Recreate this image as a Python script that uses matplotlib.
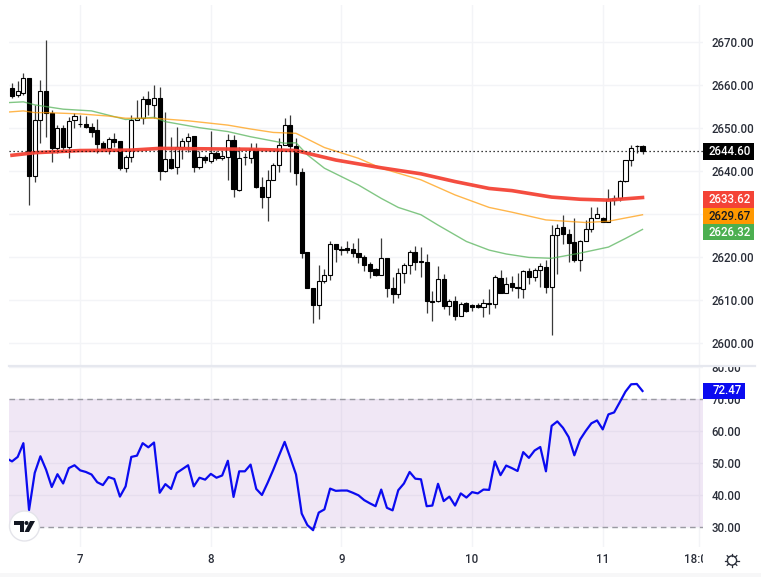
import numpy as np
import matplotlib
matplotlib.use('Agg')
import matplotlib.pyplot as plt
from matplotlib.patches import Rectangle, Circle, Polygon

plt.rcParams['font.family'] = ['Roboto', 'DejaVu Sans']

# Mumlar (hourly candles)
opens = [2659.1, 2657.5, 2658.1, 2661.5, 2638.8, 2651.9, 2658.4, 2653.3, 2645.2, 2650.0,
         2645.6, 2651.7, 2650.9, 2650.9, 2650.2, 2649.5, 2646.4, 2645.4, 2647.4, 2646.8,
         2640.7, 2643.1, 2651.8, 2652.2, 2656.6, 2655.2, 2657.0, 2639.9, 2642.8, 2640.8,
         2645.6, 2646.9, 2648.1, 2640.8, 2643.3, 2642.3, 2644.1, 2642.9, 2643.3, 2647.1,
         2635.5, 2643.1, 2642.9, 2645.0, 2636.3, 2633.9, 2637.9, 2641.4, 2646.1, 2650.6,
         2645.8, 2639.8, 2621.2, 2612.9, 2608.9, 2614.5, 2615.8, 2622.9, 2621.8, 2622.1,
         2621.9, 2621.0, 2619.9, 2618.4, 2617.1, 2615.8, 2619.7, 2612.9, 2611.5, 2616.2,
         2618.1, 2621.1, 2619.0, 2618.8, 2609.7, 2609.7, 2614.8, 2608.6, 2609.7, 2606.4,
         2609.3, 2608.9, 2608.9, 2608.3, 2609.1, 2609.1, 2615.1, 2611.7, 2613.9, 2613.0,
         2612.6, 2616.8, 2615.4, 2617.0, 2617.7, 2613.1, 2625.1, 2626.9, 2625.3, 2623.4,
         2619.2, 2623.8, 2626.5, 2629.1, 2629.1, 2628.2, 2633.2, 2633.6, 2637.7, 2642.4,
         2645.7, 2645.7]
closes = [2657.4, 2658.4, 2661.5, 2638.8, 2651.9, 2658.4, 2653.3, 2645.4, 2650.0, 2645.6,
          2651.6, 2652.6, 2650.8, 2650.1, 2649.1, 2646.2, 2645.4, 2647.4, 2646.6, 2640.7,
          2643.1, 2651.9, 2652.2, 2656.6, 2655.5, 2656.8, 2640.0, 2642.7, 2640.7, 2645.6,
          2647.0, 2647.9, 2640.8, 2643.1, 2642.5, 2644.1, 2642.9, 2643.4, 2647.1, 2635.7,
          2643.0, 2643.1, 2645.0, 2636.3, 2633.9, 2637.9, 2641.4, 2646.1, 2650.6, 2645.8,
          2639.6, 2621.0, 2612.8, 2608.9, 2614.4, 2615.8, 2622.9, 2621.9, 2621.6, 2621.7,
          2620.9, 2620.0, 2618.2, 2616.8, 2615.8, 2619.7, 2612.8, 2611.5, 2616.2, 2618.1,
          2621.1, 2618.9, 2618.8, 2609.7, 2609.6, 2614.8, 2608.7, 2609.7, 2606.2, 2609.1,
          2607.5, 2608.5, 2608.4, 2609.3, 2609.1, 2615.4, 2611.6, 2613.7, 2613.1, 2612.7,
          2616.8, 2615.4, 2617.0, 2617.9, 2613.1, 2625.1, 2626.7, 2625.3, 2623.3, 2619.2,
          2623.8, 2626.5, 2629.1, 2630.0, 2628.2, 2633.4, 2633.8, 2637.7, 2642.4, 2645.4,
          2645.7, 2644.5]
highs = [2660.3, 2660.9, 2662.6, 2661.5, 2655.3, 2661.1, 2670.3, 2654.1, 2650.6, 2650.6,
         2652.4, 2653.3, 2652.9, 2652.6, 2651.2, 2652.1, 2646.8, 2647.8, 2648.7, 2646.8,
         2643.7, 2652.9, 2656.4, 2657.4, 2658.6, 2659.8, 2659.4, 2653.7, 2647.8, 2650.1,
         2647.5, 2648.7, 2648.1, 2644.7, 2643.7, 2649.2, 2644.7, 2644.7, 2648.5, 2648.3,
         2645.6, 2644.1, 2646.4, 2646.5, 2638.5, 2640.3, 2641.9, 2647.5, 2652.2, 2652.9,
         2647.5, 2640.6, 2621.2, 2612.9, 2618.1, 2617.1, 2623.8, 2622.9, 2622.6, 2623.8,
         2623.2, 2624.3, 2620.5, 2618.9, 2617.4, 2624.3, 2619.7, 2615.4, 2617.4, 2618.7,
         2621.6, 2622.6, 2622.4, 2620.6, 2612.0, 2617.9, 2616.0, 2610.2, 2610.9, 2609.6,
         2609.5, 2609.1, 2609.3, 2610.2, 2612.5, 2615.8, 2617.0, 2615.4, 2615.7, 2616.4,
         2617.0, 2617.4, 2617.5, 2618.5, 2619.2, 2627.4, 2627.7, 2629.8, 2626.4, 2629.0,
         2624.0, 2628.6, 2631.5, 2631.5, 2629.2, 2635.8, 2634.5, 2637.9, 2642.5, 2646.1,
         2646.1, 2646.1]
lows = [2656.8, 2657.2, 2657.6, 2632.1, 2637.5, 2646.4, 2647.9, 2642.0, 2644.2, 2644.4,
        2642.9, 2649.9, 2650.2, 2649.9, 2647.9, 2644.1, 2645.2, 2643.9, 2645.6, 2640.2,
        2639.8, 2642.0, 2651.8, 2650.8, 2653.0, 2652.2, 2637.9, 2639.8, 2640.5, 2639.2,
        2642.7, 2644.4, 2639.8, 2640.5, 2641.7, 2641.7, 2642.4, 2642.4, 2637.9, 2634.0,
        2635.3, 2641.3, 2641.7, 2635.9, 2631.3, 2628.4, 2637.9, 2639.8, 2646.0, 2639.8,
        2636.7, 2619.7, 2612.7, 2604.6, 2605.7, 2613.9, 2614.7, 2618.9, 2620.5, 2620.9,
        2620.1, 2618.5, 2616.8, 2615.1, 2615.6, 2615.8, 2610.8, 2609.3, 2610.4, 2613.9,
        2616.1, 2617.0, 2615.4, 2606.9, 2605.2, 2609.6, 2607.9, 2606.5, 2605.4, 2606.3,
        2607.3, 2607.5, 2608.1, 2606.0, 2606.8, 2608.1, 2611.6, 2611.6, 2612.0, 2610.6,
        2610.4, 2613.7, 2614.5, 2613.1, 2611.6, 2601.8, 2616.0, 2623.0, 2618.9, 2618.9,
        2616.7, 2623.6, 2625.9, 2629.0, 2628.1, 2628.2, 2632.1, 2633.0, 2637.5, 2641.0,
        2644.2, 2644.0]

# Hareketli ortalamalar (index of candle, value)
red_idx = [0, 4, 12, 21, 26, 42, 50, 57, 65, 72, 78, 84, 88, 95, 100, 105, 111]
red_ma = [2643.6, 2644.2, 2644.7, 2644.8, 2645.2, 2645.0, 2644.7, 2642.5, 2640.7, 2639.3,
          2637.5, 2635.9, 2635.4, 2633.9, 2633.4, 2633.2, 2633.8]
orange_idx = [-1, 2, 4, 6, 12, 17, 20, 25, 31, 38, 42, 46, 50, 55, 61, 65, 72, 78, 84, 88, 94, 101, 105, 111]
orange_ma = [2653.6, 2653.9, 2653.5, 2653.5, 2653.2, 2652.7, 2652.2, 2652.2, 2651.6, 2650.6,
             2649.7, 2648.9, 2648.7, 2645.4, 2642.9, 2640.6, 2637.9, 2634.4, 2631.5, 2630.4,
             2628.6, 2628.0, 2628.3, 2629.8]
green_idx = [-1, 2, 4, 9, 14, 17, 20, 25, 27, 33, 38, 42, 44, 48, 50, 52, 55, 61, 65, 68,
             72, 75, 80, 84, 87, 91, 95, 100, 105, 108, 111]
green_ma = [2655.8, 2656.0, 2655.3, 2654.3, 2653.9, 2652.9, 2651.9, 2652.4, 2651.4, 2650.0,
            2649.1, 2647.9, 2647.4, 2646.4, 2646.5, 2643.7, 2640.6, 2636.7, 2633.6, 2631.5,
            2629.8, 2627.4, 2623.6, 2621.6, 2620.7, 2619.9, 2619.7, 2620.9, 2622.3, 2624.3,
            2626.4]

# RSI (starts one candle before the first one)
rsi = [51.5, 50.5, 51.9, 56.2, 35.3, 46.9, 52.1, 47.9, 42.5, 46.5, 43.6, 48.4, 49.3, 47.7,
       47.2, 46.4, 44.0, 43.1, 45.6, 45.0, 39.5, 42.7, 51.9, 52.3, 56.2, 54.9, 56.4, 40.7,
       43.4, 41.9, 46.9, 48.1, 49.3, 42.7, 45.4, 44.8, 46.6, 45.4, 46.1, 50.7, 39.4, 47.4,
       47.4, 49.5, 41.9, 40.0, 43.8, 47.9, 52.3, 56.6, 51.6, 46.4, 34.2, 30.6, 29.0, 34.5,
       35.5, 42.0, 41.3, 41.4, 41.4, 40.7, 39.9, 38.4, 37.4, 36.5, 41.7, 36.0, 35.2, 41.5,
       43.6, 47.2, 45.1, 44.9, 36.5, 36.7, 43.5, 38.1, 39.5, 36.7, 40.5, 39.2, 40.9, 40.5,
       41.7, 41.6, 50.5, 46.2, 49.2, 48.4, 47.5, 53.4, 51.6, 53.9, 55.0, 47.4, 61.6, 63.0,
       61.0, 58.1, 52.4, 57.3, 60.0, 62.4, 63.3, 60.5, 65.2, 65.8, 69.0, 72.3, 74.6, 74.7,
       72.5]

price_ticks = [2600, 2610, 2620, 2630, 2640, 2650, 2660, 2670]
price_labels = ['2600.00', '2610.00', '2620.00', '', '2640.00', '2650.00', '2660.00', '2670.00']
rsi_ticks = [30, 40, 50, 60, 70, 80]
day_idx = [12, 35, 58, 81, 104, 121]
day_labels = ['7', '8', '9', '10', '11', '18:00']

last_price = 2644.60
W, H = 761, 577


def px_axes(x0, y0, x1, y1):
    return fig.add_axes([x0 / W, 1 - y1 / H, (x1 - x0) / W, (y1 - y0) / H])


fig = plt.figure(figsize=(W / 100, H / 100), dpi=100, facecolor='white')
grid_col = '#f3f4f7'
text_col = '#2a2e39'
xlim = (-0.53, 121.65)

# --- fiyat paneli
ax = px_axes(9, 5, 703, 365)
ax.set_xlim(xlim)
ax.set_ylim(2594.94, 2678.47)
ax.set_xticks(day_idx)
ax.set_yticks(price_ticks)
ax.set_yticklabels(price_labels, fontweight='medium')
ax.grid(True, color=grid_col, lw=1)
ax.set_axisbelow(True)
ax.yaxis.tick_right()
ax.tick_params(axis='y', length=0, pad=6, labelsize=8.3, labelcolor=text_col)
ax.tick_params(axis='x', length=0, labelbottom=False)
for s in ax.spines.values():
    s.set_visible(False)

x = np.arange(len(opens))
o, c = np.array(opens), np.array(closes)
ax.vlines(x, lows, highs, color='#3a3a3a', lw=0.9, zorder=2)
up = c >= o
ax.bar(x[up], np.maximum(c - o, 0.15)[up], bottom=o[up], width=0.72,
       facecolor='white', edgecolor='black', lw=0.8, zorder=3)
ax.bar(x[~up], np.maximum(o - c, 0.15)[~up], bottom=c[~up], width=0.72,
       facecolor='black', edgecolor='black', lw=0.8, zorder=3)

ax.plot(green_idx, green_ma, color='#4caf50', lw=1.0, alpha=0.7, zorder=4)
ax.plot(orange_idx, orange_ma, color='#ff9800', lw=1.0, alpha=0.7, zorder=4)
ax.plot(red_idx, red_ma, color='#f44336', lw=2.6, alpha=0.95, zorder=4)
ax.axhline(last_price, color='black', lw=0.9, ls=(0, (1, 2.2)), zorder=5)

# --- RSI paneli
ax2 = px_axes(9, 367, 703, 547)
ax2.set_xlim(xlim)
ax2.set_ylim(23.75, 80)
ax2.set_xticks(day_idx)
ax2.set_yticks(rsi_ticks)
ax2.set_yticklabels(['%.2f' % v for v in rsi_ticks], fontweight='medium')
ax2.grid(True, color=grid_col, lw=1)
ax2.set_axisbelow(True)
ax2.yaxis.tick_right()
ax2.tick_params(axis='y', length=0, pad=6, labelsize=8.3, labelcolor=text_col)
ax2.tick_params(axis='x', length=0, labelbottom=False)
for s in ax2.spines.values():
    s.set_visible(False)
ax2.axhspan(30, 70, color='#8a3fb0', alpha=0.12, lw=0, zorder=1)
ax2.axhline(70, color='#9a9aa2', lw=1, ls=(0, (4, 3)), zorder=2)
ax2.axhline(30, color='#9a9aa2', lw=1, ls=(0, (4, 3)), zorder=2)
ax2.plot(np.arange(len(rsi)) - 1, rsi, color='#0b0bf0', lw=1.6, zorder=3)

# --- zaman ekseni
ax3 = px_axes(9, 547, 703, 573)
ax3.set_xlim(xlim)
ax3.set_ylim(0, 1)
ax3.axis('off')
for d, lab in zip(day_idx, day_labels):
    ax3.text(d, 0.53, lab, ha='center', va='center', fontsize=8.3, color=text_col,
             fontweight='medium', clip_on=True)

# --- etiketler ve simgeler (overlay in pixels)
ov = fig.add_axes([0, 0, 1, 1], zorder=10)
ov.set_xlim(0, W)
ov.set_ylim(H, 0)
ov.axis('off')
ov.patch.set_alpha(0)
ov.add_patch(Rectangle((704, 350), 57, 16, fc='white', ec='none'))
ov.plot([9, 755], [365.5, 365.5], color='#e6e8ef', lw=1.6)
ov.add_patch(Rectangle((0, 573), W, 4, fc='#f7f7f8', ec='none'))

labels = [('2644.60', 143, 160, 703, 754, 'black', 'white'),
          ('2633.62', 191, 207.5, 703, 754, '#f44336', 'white'),
          ('2629.67', 208, 224, 703, 754, '#ff9800', '#131722'),
          ('2626.32', 224, 240, 703, 754, '#4caf50', 'white'),
          ('72.47', 383, 399, 703, 745, '#0b0bf0', 'white')]
for txt, y0, y1, x0, x1, bg, fg in labels:
    ov.add_patch(Rectangle((x0, y0), x1 - x0, y1 - y0, fc=bg, ec='none'))
    ov.text(x1 - 3, (y0 + y1) / 2, txt, ha='right', va='center', fontsize=8.3, color=fg,
            fontweight='medium')

# TradingView logosu
ov.add_patch(Circle((24.5, 526), 15, fc='white', ec='#e4e4ea', lw=1))
ov.add_patch(Polygon([(14, 521), (24, 521), (24, 532), (20, 532), (20, 525), (14, 525)], fc='#131722', ec='none'))
ov.add_patch(Circle((26.5, 523), 2, fc='#131722', ec='none'))
ov.add_patch(Polygon([(30, 521), (35, 521), (29, 532), (24.5, 532)], fc='#131722', ec='none'))

# ayar simgesi
ov.add_patch(Circle((732, 560.5), 4.6, fc='white', ec='#2a2e39', lw=1))
for a in np.deg2rad(np.arange(0, 360, 45)):
    ov.plot([732 + 4.6 * np.cos(a), 732 + 6.8 * np.cos(a)],
            [560.5 + 4.6 * np.sin(a), 560.5 + 6.8 * np.sin(a)], color='#2a2e39', lw=0.9)

fig.savefig('out.png', dpi=100)
